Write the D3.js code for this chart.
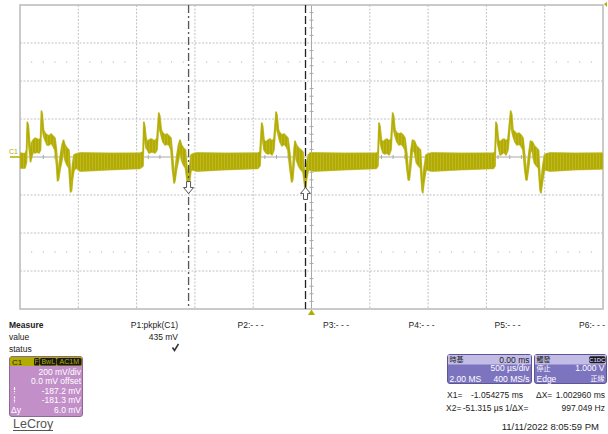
<!DOCTYPE html>
<html><head><meta charset="utf-8">
<script src="https://cdn.jsdelivr.net/npm/d3@7"></script>
<style>
html,body{margin:0;padding:0;background:#fff;}
svg{display:block;font-family:"Liberation Sans",Arial,sans-serif;}
</style></head><body>
<svg id="c" width="608" height="434"></svg>
<script>
// ---- Data (time in µs, voltage in mV; each row: [time, envelope max, envelope min]) ----
const period1 = [[-2500,21,-58],[-2457,16,-58],[-2444,37,-26],[-2437,184,153],[-2429,168,89],[-2420,100,37],[-2410,37,-26],[-2401,74,-5],[-2388,89,26],[-2371,100,21],[-2354,95,26],[-2337,89,21],[-2324,100,37],[-2316,242,205],[-2309,226,153],[-2298,142,111],[-2285,126,89],[-2268,116,63],[-2251,111,63],[-2234,121,74],[-2217,111,58],[-2200,100,37],[-2187,37,-42],[-2178,-58,-126],[-2170,-68,-121],[-2157,-5,-68],[-2140,63,-16],[-2127,89,37],[-2114,63,-16],[-2097,47,-42],[-2080,37,-58],[-2067,-95,-184],[-2058,-121,-179],[-2050,-42,-121],[-2037,11,-68],[-2015,16,-58],[-1985,21,-74],[-1728,19,-66],[-1471,20,-60]];
const period2 = [[-1445,26,-47],[-1438,184,142],[-1430,163,89],[-1419,100,47],[-1406,79,37],[-1394,89,21],[-1376,95,26],[-1359,89,26],[-1342,84,21],[-1325,100,37],[-1310,232,195],[-1301,216,142],[-1288,142,111],[-1274,126,79],[-1256,116,63],[-1239,121,68],[-1222,111,63],[-1205,100,37],[-1192,11,-68],[-1179,-95,-137],[-1171,-79,-126],[-1158,-5,-68],[-1141,63,-16],[-1128,89,37],[-1115,63,-16],[-1098,47,-42],[-1081,37,-58],[-1063,-95,-142],[-1055,-121,-187],[-1046,-58,-132],[-1033,11,-68],[-1016,16,-68],[-985,21,-74],[-742,19,-66],[-460,20,-60]];
const period3 = [[-442,26,-47],[-427,179,142],[-419,163,89],[-407,89,37],[-390,79,21],[-373,89,16],[-356,95,21],[-339,84,11],[-322,95,37],[-304,237,200],[-296,221,142],[-283,142,111],[-270,126,79],[-253,116,58],[-236,121,68],[-219,111,58],[-202,100,37],[-184,11,-68],[-170,-84,-132],[-161,-68,-121],[-150,37,-42],[-142,84,37],[-129,63,-16],[-111,47,-47],[-90,37,-68],[-73,26,-79],[-60,-95,-142],[-53,-121,-181],[-43,-42,-121],[-27,11,-68],[-13,21,-68],[20,21,-74],[287,19,-66],[555,20,-60]];
const period4 = [[570,26,-47],[579,179,142],[587,163,89],[600,89,47],[613,79,21],[630,89,16],[647,95,21],[665,84,11],[682,95,37],[696,232,195],[705,216,142],[716,142,111],[733,126,79],[750,121,63],[768,126,68],[785,116,58],[802,100,37],[819,11,-68],[830,-79,-121],[839,-68,-121],[853,37,-42],[866,89,37],[883,84,26],[900,58,-32],[918,47,-47],[935,37,-58],[948,-111,-174],[954,-132,-189],[965,-58,-132],[982,11,-68],[999,16,-68],[1030,21,-74],[1274,19,-66],[1560,20,-60]];
const period5 = [[1574,26,-47],[1582,184,153],[1591,168,89],[1604,89,47],[1617,79,11],[1634,89,16],[1651,95,26],[1668,84,11],[1685,95,37],[1708,242,205],[1717,226,142],[1728,142,111],[1745,132,79],[1762,121,63],[1780,126,68],[1797,116,58],[1814,100,37],[1829,11,-68],[1840,-79,-121],[1848,-68,-121],[1865,26,-42],[1878,84,37],[1895,79,26],[1912,58,-32],[1930,47,-47],[1947,37,-58],[1960,-111,-174],[1968,-132,-189],[1981,-58,-132],[1998,11,-68],[2011,16,-68],[2045,21,-74],[2260,19,-66],[2500,20,-62]];
const cursorTimesUs = [-1054.275, -51.315];
const cursorLevelsMv = [-187.2, -181.3];
const measureNames = ["P1:pkpk(C1)","P2:- - -","P3:- - -","P4:- - -","P5:- - -","P6:- - -"];
const measureValues = ["435 mV","","","","",""];
const channelRows = ["200 mV/div","0.0 mV offset","-187.2 mV","-181.3 mV","6.0 mV"];
const channelBadges = ["F","BwL","AC1M"];
const timebaseRows = [["時基","0.00 ms"],["","500 µs/div"],["2.00 MS","400 MS/s"]];
const triggerRows = [["觸發",""],["停止","1.000 V"],["Edge","正緣"]];
const cursorReadouts = [["X1=","-1.054275 ms","ΔX=","1.002960 ms"],["X2=","-51.315 µs","1/ΔX=","997.049 Hz"]];
const timestamp = "11/11/2022 8:05:59 PM";

// ---- Drawing ----
const OLIVE = "#b3ac00";
const LIGHT = "#d3cf6e";
const svg = d3.select("#c");
const L = 20, R = 603, T = 5, B = 309;
const x = d3.scaleLinear().domain([-2500, 2500]).range([L, R]);
const y = d3.scaleLinear().domain([-800, 800]).range([B, T]);

const defs = svg.append("defs");
const pat = defs.append("pattern").attr("id", "stripes").attr("patternUnits", "userSpaceOnUse").attr("width", 3).attr("height", 10);
pat.append("rect").attr("x", 0).attr("y", 0).attr("width", 3).attr("height", 10).attr("fill", OLIVE);
pat.append("rect").attr("x", 2).attr("y", 0).attr("width", 1).attr("height", 10).attr("fill", "#bcb628");

const grid = svg.append("g");
d3.range(-2000, 2001, 500).filter(d => d !== 0).forEach(t => {
  grid.append("line").attr("x1", x(t)).attr("x2", x(t)).attr("y1", T).attr("y2", B)
    .attr("stroke", "#c2c2c2").attr("stroke-width", 1).attr("stroke-dasharray", "2,1.5");
});
d3.range(-600, 601, 200).filter(d => d !== 0).forEach(v => {
  grid.append("line").attr("x1", L).attr("x2", R).attr("y1", y(v)).attr("y2", y(v))
    .attr("stroke", "#c2c2c2").attr("stroke-width", 1).attr("stroke-dasharray", "2,1.5");
});
[-500, 500].forEach(v => {
  d3.range(-2400, 2401, 100).filter(t => t % 500 !== 0).forEach(t => {
    grid.append("rect").attr("x", x(t) - 0.5).attr("y", y(v) - 0.5).attr("width", 1).attr("height", 1).attr("fill", "#a8a8a8");
  });
});
grid.append("line").attr("x1", x(0)).attr("x2", x(0)).attr("y1", T).attr("y2", B).attr("stroke", "#a9a9a9").attr("stroke-width", 1);
grid.append("line").attr("x1", L).attr("x2", R).attr("y1", y(0)).attr("y2", y(0)).attr("stroke", "#a9a9a9").attr("stroke-width", 1);
d3.range(-2400, 2401, 100).filter(t => t % 500 !== 0).forEach(t => {
  grid.append("line").attr("x1", x(t)).attr("x2", x(t)).attr("y1", y(0) - 2).attr("y2", y(0) + 2).attr("stroke", "#a9a9a9");
});
d3.range(-760, 761, 40).filter(v => v % 200 !== 0).forEach(v => {
  grid.append("line").attr("x1", x(0) - 2).attr("x2", x(0) + 2).attr("y1", y(v)).attr("y2", y(v)).attr("stroke", "#a9a9a9");
});
svg.append("rect").attr("x", L).attr("y", T).attr("width", R - L).attr("height", B - T)
  .attr("fill", "none").attr("stroke", "#bdbdbd").attr("stroke-width", 1.6);

// waveform envelope
const trace = [].concat(period1, period2, period3, period4, period5).map(r => ({t: r[0], max: r[1], min: r[2]}));
const area = d3.area().x(d => x(d.t)).y0(d => y(d.min)).y1(d => y(d.max));
svg.append("clipPath").attr("id", "pc").append("rect").attr("x", L).attr("y", T).attr("width", R - L).attr("height", B - T);
const tg = svg.append("g").attr("clip-path", "url(#pc)");
tg.append("path").datum(trace).attr("d", area).attr("fill", LIGHT).attr("stroke", LIGHT).attr("stroke-width", 1.8).attr("stroke-linejoin", "round");
tg.append("path").datum(trace).attr("d", area).attr("fill", "url(#stripes)").attr("stroke", OLIVE).attr("stroke-width", 0.8).attr("stroke-linejoin", "round");

// channel marker
svg.append("text").attr("x", 9).attr("y", y(0) - 3).attr("font-size", 7).attr("fill", OLIVE).text("C1");
svg.append("line").attr("x1", 10).attr("x2", L).attr("y1", y(0)).attr("y2", y(0)).attr("stroke", OLIVE).attr("stroke-width", 1.5);

// cursors
const dashes = ["8,3,2,3", "8,3"];
const cColors = ["#555", "#222"];
cursorTimesUs.forEach((t, i) => {
  svg.append("line").attr("x1", x(t)).attr("x2", x(t)).attr("y1", T).attr("y2", B)
    .attr("stroke", cColors[i]).attr("stroke-width", 1.3).attr("stroke-dasharray", dashes[i]);
});
function arrow(cx, tip, dir) {
  const p = [[0, 0], [5, -6], [2, -6], [2, -12], [-2, -12], [-2, -6], [-5, -6]];
  return "M" + p.map(q => [cx + q[0], tip + dir * q[1]].join(",")).join("L") + "Z";
}
svg.append("path").attr("d", arrow(x(cursorTimesUs[0]), y(cursorLevelsMv[0]) + 1, 1)).attr("fill", "#fff").attr("stroke", "#555").attr("stroke-width", 1);
svg.append("path").attr("d", arrow(x(cursorTimesUs[1]), y(cursorLevelsMv[1]) - 4, -1)).attr("fill", "#fff").attr("stroke", "#555").attr("stroke-width", 1);

svg.append("path").attr("d", `M${x(0)},${B + 0.5}L${x(0) - 3.5},${B + 6}L${x(0) + 3.5},${B + 6}Z`).attr("fill", OLIVE);
svg.append("path").attr("d", `M${R + 1},${T - 1}L${R + 4},${T - 3}L${R + 4},${T + 2}Z`).attr("fill", OLIVE);

// ---- Measure panel ----
const mp = svg.append("g").attr("font-size", 8.5).attr("fill", "#222");
mp.append("text").attr("x", 9).attr("y", 327.5).attr("font-weight", "bold").text("Measure");
mp.append("text").attr("x", 9).attr("y", 339.5).text("value");
mp.append("text").attr("x", 9).attr("y", 351.5).text("status");
const colRight = [178, 263.5, 349, 434.5, 520.5, 605];
measureNames.forEach((n, i) => {
  mp.append("text").attr("x", colRight[i]).attr("y", 327.5).attr("text-anchor", "end").text(n);
  if (measureValues[i]) mp.append("text").attr("x", colRight[i]).attr("y", 339.5).attr("text-anchor", "end").text(measureValues[i]);
});
mp.append("path").attr("d", "M172.5,347.5L174.5,350.5L178.5,343.8").attr("fill", "none").attr("stroke", "#333").attr("stroke-width", 1.6);

// ---- Channel box ----
const cb = svg.append("g");
cb.append("rect").attr("x", 9.5).attr("y", 356.5).attr("width", 73).attr("height", 60).attr("rx", 2.5).attr("fill", "#c28fc9").attr("stroke", "#8d6a93");
cb.append("rect").attr("x", 10).attr("y", 357).attr("width", 72).attr("height", 9).attr("fill", OLIVE);
cb.append("text").attr("x", 12).attr("y", 364.5).attr("font-size", 8).attr("fill", "#222").text("C1");
const bx = [34, 40, 57], bw = [5.5, 16.5, 24.5];
channelBadges.forEach((b, i) => {
  cb.append("rect").attr("x", bx[i]).attr("y", 358).attr("width", bw[i]).attr("height", 7.5).attr("rx", 1.5).attr("fill", "#1a1a1a");
  cb.append("text").attr("x", bx[i] + bw[i] / 2).attr("y", 364.3).attr("text-anchor", "middle").attr("font-size", 7).attr("fill", OLIVE).text(b);
});
const rowY = [375, 384, 393.5, 403, 412.5];
channelRows.forEach((r, i) => {
  cb.append("text").attr("x", 81).attr("y", rowY[i]).attr("text-anchor", "end").attr("font-size", 8.5).attr("fill", "#fff").text(r);
});
cb.append("line").attr("x1", 14.5).attr("x2", 14.5).attr("y1", 387).attr("y2", 393.5).attr("stroke", "#fff").attr("stroke-width", 1.2).attr("stroke-dasharray", "3,1,1,1");
cb.append("line").attr("x1", 14.5).attr("x2", 14.5).attr("y1", 396.5).attr("y2", 403).attr("stroke", "#fff").attr("stroke-width", 1.2).attr("stroke-dasharray", "2,1");
cb.append("text").attr("x", 11).attr("y", 412.5).attr("font-size", 8.5).attr("fill", "#fff").text("Δy");

svg.append("text").attr("x", 13).attr("y", 428).attr("font-size", 12.5).attr("fill", "#555").text("LeCroy");
svg.append("line").attr("x1", 13).attr("x2", 53).attr("y1", 430.5).attr("y2", 430.5).attr("stroke", "#555").attr("stroke-width", 1);

// ---- Timebase & trigger boxes ----
function infoBox(x0, w, rows, badge) {
  const g = svg.append("g").attr("font-size", 8.5);
  g.append("rect").attr("x", x0).attr("y", 354.5).attr("width", w).attr("height", 29).attr("rx", 2.5).attr("fill", "#7d74c0").attr("stroke", "#5d5596");
  g.append("rect").attr("x", x0 + 0.5).attr("y", 355).attr("width", w - 1).attr("height", 9.5).attr("fill", "#c3bce6");
  const ys = [362.5, 371, 381.5];
  const isCJK = (s) => /[\u3000-\u9fff]/.test(s);
  rows.forEach((r, i) => {
    const col = i === 0 ? "#222" : "#fff";
    [0, 1].forEach(k => {
      const s = r[k];
      if (!s) return;
      const t = g.append("text").attr("x", k === 0 ? x0 + 2 : x0 + w - 2).attr("y", ys[i])
        .attr("text-anchor", k === 0 ? "start" : "end").attr("fill", col).text(s);
      if (isCJK(s)) t.attr("font-family", "'Noto Sans CJK TC','Noto Sans CJK SC',sans-serif").attr("font-size", 7).attr("y", ys[i] - 0.3);
    });
  });
  if (badge) {
    g.append("rect").attr("x", x0 + w - 17.5).attr("y", 356.3).attr("width", 16.5).attr("height", 7).attr("rx", 2).attr("fill", "#1a1a1a");
    g.append("text").attr("x", x0 + w - 9.25).attr("y", 362).attr("text-anchor", "middle").attr("font-size", 6).attr("font-weight", "bold").attr("fill", "#c3bce6").text(badge);
  }
}
infoBox(447.5, 84, timebaseRows, null);
infoBox(534.5, 72, triggerRows, "C1DC");

// cursor readouts
const cr = svg.append("g").attr("font-size", 8.5).attr("fill", "#222");
const crY = [398, 411];
const crX = [[447, 523, 536, 605], [446, 503, 505, 605]];
cursorReadouts.forEach((r, i) => {
  cr.append("text").attr("x", crX[i][0]).attr("y", crY[i]).text(r[0]);
  cr.append("text").attr("x", crX[i][1]).attr("y", crY[i]).attr("text-anchor", "end").text(r[1]);
  cr.append("text").attr("x", crX[i][2]).attr("y", crY[i]).text(r[2]);
  cr.append("text").attr("x", crX[i][3]).attr("y", crY[i]).attr("text-anchor", "end").text(r[3]);
});
svg.append("text").attr("x", 599).attr("y", 429.5).attr("text-anchor", "end").attr("font-size", 9.5).attr("fill", "#222").text(timestamp);
</script>
</body></html>
